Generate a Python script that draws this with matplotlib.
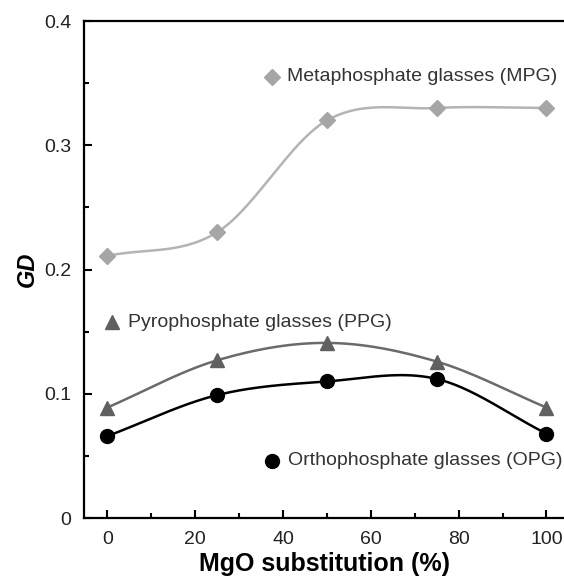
import numpy as np
import matplotlib.pyplot as plt
from matplotlib.ticker import MultipleLocator

plt.rcParams['font.family'] = ['Liberation Sans', 'DejaVu Sans']

# MgO substitution (%) and GD values
mgo = [0, 25, 50, 75, 100]
gd_mpg = [0.211, 0.230, 0.320, 0.330, 0.330]
gd_ppg = [0.089, 0.127, 0.141, 0.126, 0.089]
gd_opg = [0.066, 0.099, 0.110, 0.112, 0.068]


def smooth(x, y, n=40):
    # catmull-rom curve through the points, like the smoothed line in the original
    x = np.asarray(x, float)
    y = np.asarray(y, float)
    px = np.concatenate([[2 * x[0] - x[1]], x, [2 * x[-1] - x[-2]]])
    py = np.concatenate([[2 * y[0] - y[1]], y, [2 * y[-1] - y[-2]]])
    xs, ys = [], []
    t = np.linspace(0, 1, n)
    for i in range(1, len(px) - 2):
        for p, out in ((px, xs), (py, ys)):
            p0, p1, p2, p3 = p[i - 1], p[i], p[i + 1], p[i + 2]
            out.extend(0.5 * (2 * p1 + (-p0 + p2) * t
                              + (2 * p0 - 5 * p1 + 4 * p2 - p3) * t ** 2
                              + (-p0 + 3 * p1 - 3 * p2 + p3) * t ** 3))
    return np.array(xs), np.array(ys)


fig = plt.figure(figsize=(5.64, 5.77), dpi=100)
ax = fig.add_axes([0.149, 0.102, 0.851, 0.8616])

series = [
    (gd_mpg, '#a6a6a6', '#b4b4b4', 'D', 8.5),
    (gd_ppg, '#606060', '#6a6a6a', '^', 9.5),
    (gd_opg, 'black', 'black', 'o', 10),
]
for y, mc, lc, m, ms in series:
    sx, sy = smooth(mgo, y)
    ax.plot(sx, sy, color=lc, lw=1.8, zorder=2)
    ax.plot(mgo, y, ls='none', marker=m, ms=ms, color=mc, mec=mc, zorder=3)

# labels placed inside the plot like the original
ax.plot([37.5], [0.355], ls='none', marker='D', ms=8.5, color='#a6a6a6')
ax.text(40.9, 0.355, 'Metaphosphate glasses (MPG)', fontsize=14, va='center', color='#333333')
ax.plot([1.1], [0.1575], ls='none', marker='^', ms=9.5, color='#606060')
ax.text(4.7, 0.1575, 'Pyrophosphate glasses (PPG)', fontsize=14, va='center', color='#333333')
ax.plot([37.5], [0.046], ls='none', marker='o', ms=10, color='black')
ax.text(41.2, 0.046, 'Orthophosphate glasses (OPG)', fontsize=14, va='center', color='#333333')

ax.set_xlim(-5.3, 104)
ax.set_ylim(0, 0.4)
ax.xaxis.set_major_locator(MultipleLocator(20))
ax.xaxis.set_minor_locator(MultipleLocator(10))
ax.yaxis.set_major_locator(MultipleLocator(0.1))
ax.yaxis.set_minor_locator(MultipleLocator(0.05))
ax.set_xticks([0, 20, 40, 60, 80, 100])
ax.set_yticks([0, 0.1, 0.2, 0.3, 0.4])
ax.set_yticklabels(['0', '0.1', '0.2', '0.3', '0.4'])
ax.tick_params(which='major', direction='in', length=6, width=1.5, labelsize=14,
               color='black', labelcolor='#222222')
ax.tick_params(which='minor', direction='in', length=3.5, width=1.5)
ax.tick_params(axis='y', which='major', pad=9)
ax.tick_params(axis='x', which='major', pad=9)

ax.spines['right'].set_visible(False)
for s in ('left', 'bottom', 'top'):
    ax.spines[s].set_linewidth(1.6)

ax.set_xlabel('MgO substitution (%)', fontsize=18, fontweight='bold', labelpad=3)
ax.set_ylabel('GD', fontsize=17, fontweight='bold', fontstyle='italic', labelpad=4)

fig.savefig('out.png', dpi=100)
